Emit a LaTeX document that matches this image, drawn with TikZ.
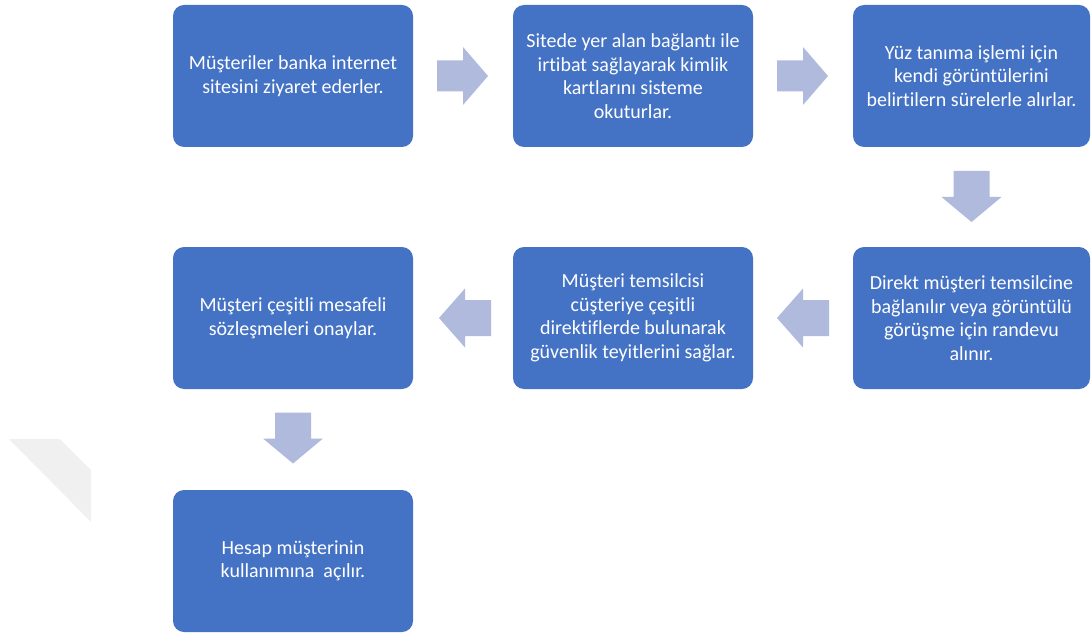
\documentclass[tikz,border=0pt]{standalone}
\usepackage{fontspec}
\setmainfont{Carlito}[Ligatures={NoCommon,NoContextual,NoRequired}]
\usetikzlibrary{calc}
\definecolor{boxc}{HTML}{4472C4}
\definecolor{arrowc}{HTML}{AFBADD}
\definecolor{wmc}{HTML}{F0F0F0}
\begin{document}
\begin{tikzpicture}[x=1pt,y=1pt,
  stepbox/.style={fill=boxc, draw=none, rounded corners=11pt, minimum width=240pt, minimum height=142pt,
    inner sep=0pt, text=white, align=center, font=\fontsize{20}{23.5}\selectfont},
  arr/.style={fill=arrowc, draw=none}]
\useasboundingbox (0,0) rectangle (1091,-636);
% watermark
\fill[wmc] (9,-439) -- (60,-439) -- (91,-470) -- (91,-522) -- cycle;
% boxes
\node[stepbox] (b1) at (293,-76) {Müşteriler banka internet\\sitesini ziyaret ederler.};
\node[stepbox] (b2) at (633,-76) {Sitede yer alan bağlantı ile\\irtibat sağlayarak kimlik\\kartlarını sisteme\\okuturlar.};
\node[stepbox, minimum width=237pt] (b3) at (971.5,-76) {Yüz tanıma işlemi için\\kendi görüntülerini\\belirtilern sürelerle alırlar.};
\node[stepbox, minimum width=237pt] (b4) at (971.5,-318) {Direkt müşteri temsilcine\\bağlanılır veya görüntülü\\görüşme için randevu\\alınır.};
\node[stepbox] (b5) at (633,-318) {Müşteri temsilcisi\\cüşteriye çeşitli\\direktiflerde bulunarak\\güvenlik teyitlerini sağlar.};
\node[stepbox] (b6) at (293,-318) {Müşteri çeşitli mesafeli\\sözleşmeleri onaylar.};
\node[stepbox] (b7) at (293,-561) {Hesap müşterinin\\kullanımına\ \ açılır.};
% right arrows
\fill[arr] ($(b1.east)!0.5!(b2.west)$) ++(-26,15.5) -- ++(26,0) -- ++(0,13.5) -- ++(25,-29) -- ++(-25,-29) -- ++(0,13.5) -- ++(-26,0) -- cycle;
\fill[arr] ($(b2.east)!0.5!(b3.west)$) ++(-26,15.5) -- ++(26,0) -- ++(0,13.5) -- ++(25,-29) -- ++(-25,-29) -- ++(0,13.5) -- ++(-26,0) -- cycle;
% down arrows
\fill[arr] ($(b3.south)!0.5!(b4.north)$) ++(-18,26) -- ++(0,-26) -- ++(-12,0) -- ++(30,-25) -- ++(30,25) -- ++(-12,0) -- ++(0,26) -- cycle;
\fill[arr] ($(b6.south)!0.5!(b7.north)$) ++(-18,27) -- ++(0,-26) -- ++(-12,0) -- ++(30,-25) -- ++(30,25) -- ++(-12,0) -- ++(0,26) -- cycle;
% left arrows
\fill[arr] ($(b4.west)!0.5!(b5.east)$) ++(26,18) -- ++(-26,0) -- ++(0,11.5) -- ++(-26,-29.5) -- ++(26,-29.5) -- ++(0,11.5) -- ++(26,0) -- cycle;
\fill[arr] ($(b5.west)!0.5!(b6.east)$) ++(28,18) -- ++(-26,0) -- ++(0,11.5) -- ++(-26,-29.5) -- ++(26,-29.5) -- ++(0,11.5) -- ++(26,0) -- cycle;
\end{tikzpicture}
\end{document}
